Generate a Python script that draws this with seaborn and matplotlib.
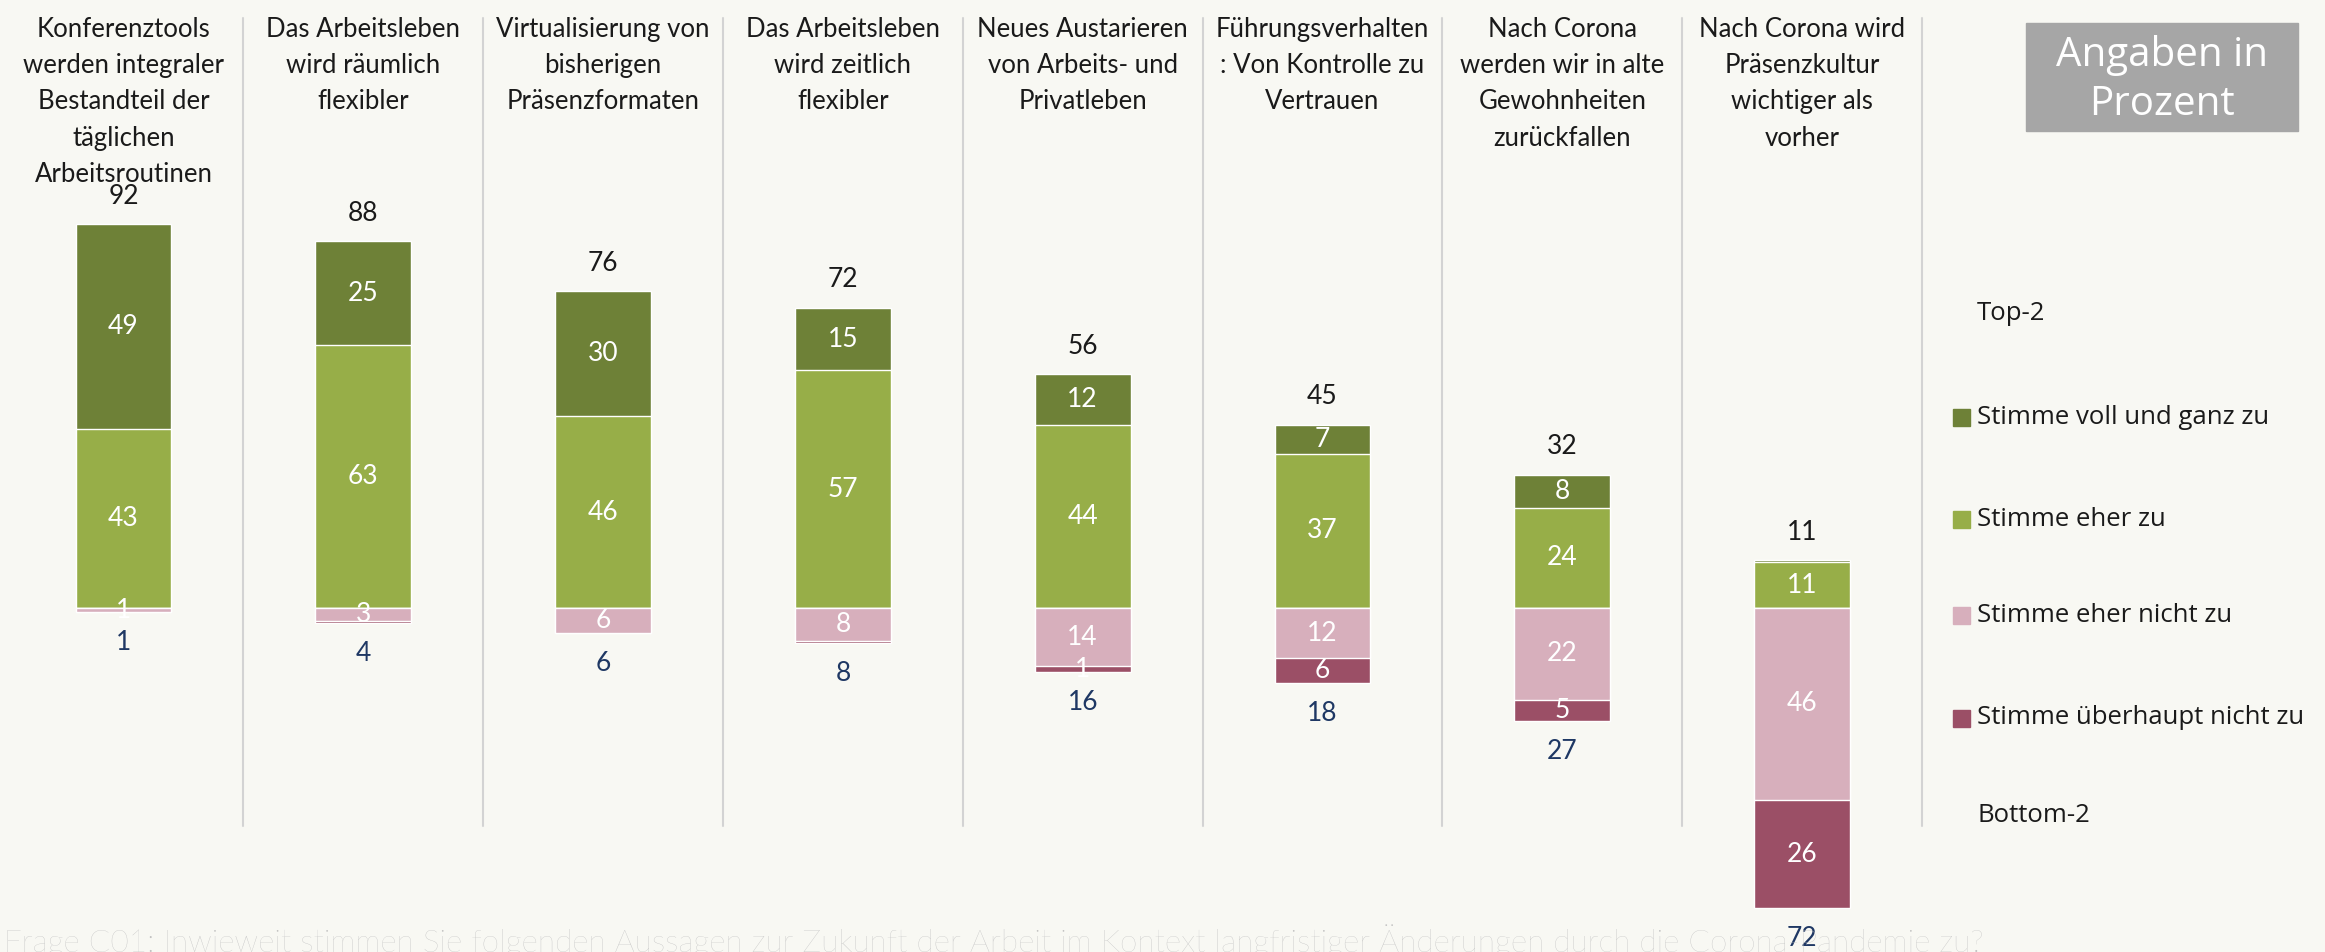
import seaborn as sns
import matplotlib.pyplot as plt
import pandas as pd
from matplotlib.patches import Rectangle

# statements (wrapped as in the original slide)
categories = [
    "Konferenztools\nwerden integraler\nBestandteil der\ntäglichen\nArbeitsroutinen",
    "Das Arbeitsleben\nwird räumlich\nflexibler",
    "Virtualisierung von\nbisherigen\nPräsenzformaten",
    "Das Arbeitsleben\nwird zeitlich\nflexibler",
    "Neues Austarieren\nvon Arbeits- und\nPrivatleben",
    "Führungsverhalten\n: Von Kontrolle zu\nVertrauen",
    "Nach Corona\nwerden wir in alte\nGewohnheiten\nzurückfallen",
    "Nach Corona wird\nPräsenzkultur\nwichtiger als\nvorher",
]
voll_und_ganz = [49, 25, 30, 15, 12, 7, 8, 0.4]
eher_zu = [43, 63, 46, 57, 44, 37, 24, 11]
eher_nicht_zu = [1, 3, 6, 8, 14, 12, 22, 46]
ueberhaupt_nicht = [0, 0.6, 0, 0.5, 1.4, 6, 5, 26]
top2 = [92, 88, 76, 72, 56, 45, 32, 11]
bottom2 = [1, 4, 6, 8, 16, 18, 27, 72]

legend_labels = ["Stimme voll und ganz zu", "Stimme eher zu",
                 "Stimme eher nicht zu", "Stimme überhaupt nicht zu"]
colors = ["#6e8137", "#97ae48", "#d7afbc", "#9b4f66"]
bg = "#f8f8f3"

sns.set_theme(style="white")
plt.rcParams['font.family'] = ['Lato', 'DejaVu Sans']

df = pd.DataFrame({
    'Aussage': categories,
    'voll': voll_und_ganz,
    'eher': eher_zu,
    'eher_nicht': eher_nicht_zu,
    'ueberhaupt': ueberhaupt_nicht,
})
df['pos_sum'] = df['voll'] + df['eher']
df['neg_sum'] = -(df['eher_nicht'] + df['ueberhaupt'])
df['neg_inner'] = -df['eher_nicht']

W, H = 2325, 952
fig = plt.figure(figsize=(W / 100, H / 100), dpi=100, facecolor=bg)
ax = fig.add_axes([0, 0, 1, 1])
ax.set_facecolor(bg)

bw = 0.40
# stacked look: draw cumulative bars first, inner segment on top
for col, c in [('pos_sum', colors[0]), ('eher', colors[1]),
               ('neg_sum', colors[3]), ('neg_inner', colors[2])]:
    sns.barplot(data=df, x='Aussage', y=col, order=categories, color=c,
                saturation=1, width=bw, ax=ax, errorbar=None)

x0 = 123.5 / 239.8
ax.set_xlim(-x0, (W - 123.5) / 239.8)
ppu = 4.17
ax.set_ylim(-(H - 608) / ppu, 608 / ppu)
ax.axis('off')

fs = 19
for i in range(len(categories)):
    # segment labels
    v = voll_und_ganz[i]
    e = eher_zu[i]
    n = eher_nicht_zu[i]
    u = ueberhaupt_nicht[i]
    for val, ymid in [(v, e + v / 2), (e, e / 2), (n, -n / 2), (u, -n - u / 2)]:
        if val >= 1:
            ax.text(i, ymid, f"{val:.0f}", ha='center', va='center',
                    color='white', fontsize=fs)
    ax.text(i, e + v + 6.7, str(top2[i]), ha='center', va='center',
            color='#1a1a1a', fontsize=fs)
    ax.text(i, -n - u - 7.3, str(bottom2[i]), ha='center', va='center',
            color='#1f3864', fontsize=fs)
    # statement heading
    ax.text(i, (608 - 17) / ppu, categories[i], ha='center', va='top',
            color='#1a1a1a', fontsize=18.5, linespacing=1.56)
    # column separator
    ax.plot([i + 0.5, i + 0.5], [(608 - 18) / ppu, (608 - 826) / ppu],
            color='#d3d3d3', lw=1.5)

# legend
def fy(py):
    return 1 - py / H

lfont = ['Open Sans', 'DejaVu Sans']
fig.text(1977 / W, fy(314), "Top-2", fontsize=18.5, va='center',
         color='#1a1a1a', family=lfont)
for lab, c, py in zip(legend_labels, colors, [417, 519, 615, 718]):
    fig.patches.append(Rectangle((1953 / W, fy(py + 9)), 17 / W, 17 / H,
                                 transform=fig.transFigure, color=c))
    fig.text(1977 / W, fy(py), lab, fontsize=18.5, va='center',
             color='#1a1a1a', family=lfont)
fig.text(1977 / W, fy(816), "Bottom-2", fontsize=18.5, va='center',
         color='#1a1a1a', family=lfont)

# unit box
fig.patches.append(Rectangle((2026 / W, fy(131)), 272 / W, 108 / H,
                             transform=fig.transFigure, color='#a6a6a6'))
fig.text(2162 / W, fy(80), "Angaben in\nProzent", fontsize=29, ha='center',
         va='center', color='white', linespacing=1.3, family=lfont)

fig.text(4 / W, fy(924), "Frage C01: Inwieweit stimmen Sie folgenden Aussagen zur Zukunft "
         "der Arbeit im Kontext langfristiger Änderungen durch die Corona-Pandemie zu?",
         fontsize=22.8, va='top', color='#c0c0c0', fontweight='light')

plt.savefig("out.png", dpi=100, facecolor=bg)
